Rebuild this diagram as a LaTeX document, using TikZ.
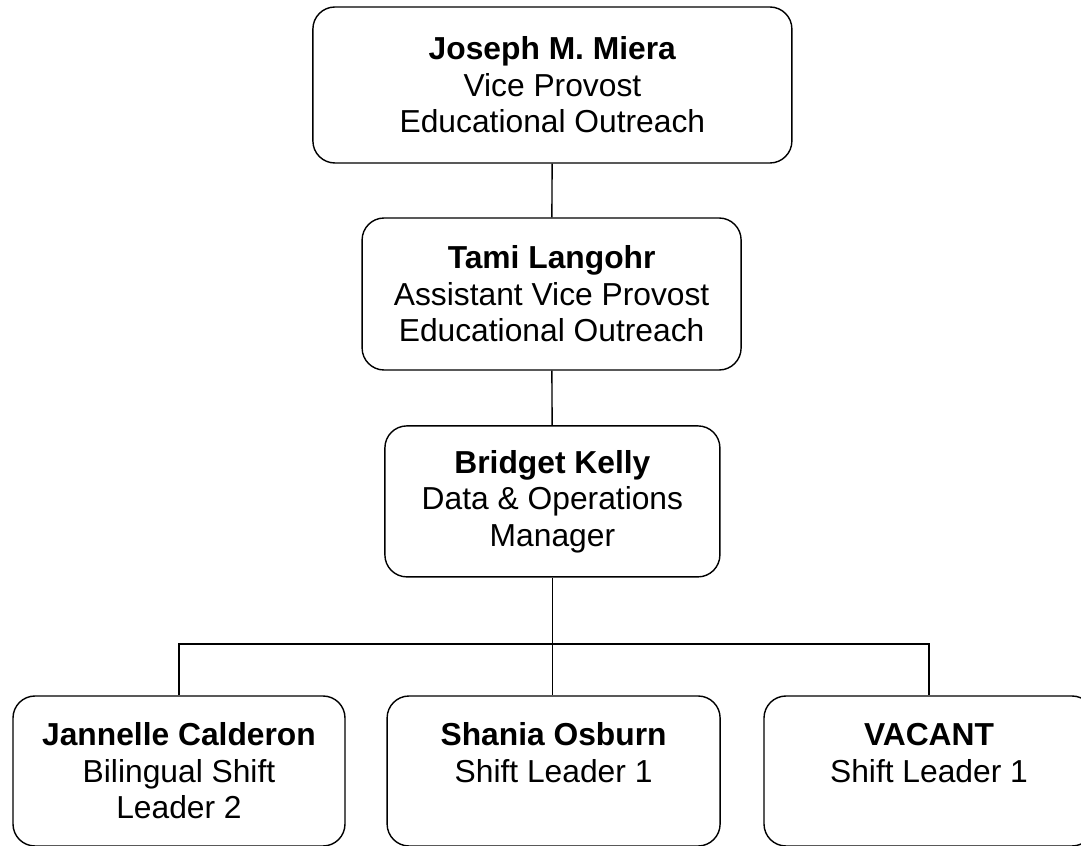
\documentclass[tikz,border=0pt]{standalone}
\usepackage{fontspec}
\setmainfont{Liberation Sans}
\begin{document}
\begin{tikzpicture}[line width=1pt]
        \useasboundingbox (0,0) rectangle (27.025,21.125);

        \begin{scope}[every node/.style={draw,rounded corners=.55cm,align=center,inner sep=0pt,
            minimum height=3.75cm,font=\fontsize{22.6}{26}\selectfont}]
          \node[minimum width=11.975cm,minimum height=3.9cm] (1) at (13.81,19)     {\textbf{Joseph M. Miera}\\Vice Provost\\Educational Outreach};
          \node[minimum width=9.475cm,minimum height=3.8cm]  (2) at (13.79,13.775) {\textbf{Tami Langohr}\\Assistant Vice Provost\\Educational Outreach};
          \node[minimum width=8.375cm,minimum height=3.775cm] (3) at (13.81,8.59) {\textbf{Bridget Kelly}\\Data \& Operations\\Manager};
          \node[minimum width=8.3cm]   (4) at (4.475,1.85)  {\textbf{Jannelle Calderon}\\Bilingual Shift\\Leader 2};
          \node[minimum width=8.325cm] (5) at (13.84,1.85)  {\textbf{Shania Osburn}\\Shift Leader 1\\\mbox{}};
          \node[minimum width=8.25cm]  (6) at (23.225,1.85) {\textbf{VACANT}\\Shift Leader 1\\\mbox{}};
        \end{scope}

        \coordinate (bus) at (0,5.025);

        \begin{scope}[every edge/.style={draw}]
          \path (1) edge (2);
          \path (2) edge (3);
          \path (3.south) edge (3.south |- 5.north);
        \end{scope}
        \draw (4.north) -- (4.north |- bus) -| (6.north);

      \end{tikzpicture}
\end{document}
